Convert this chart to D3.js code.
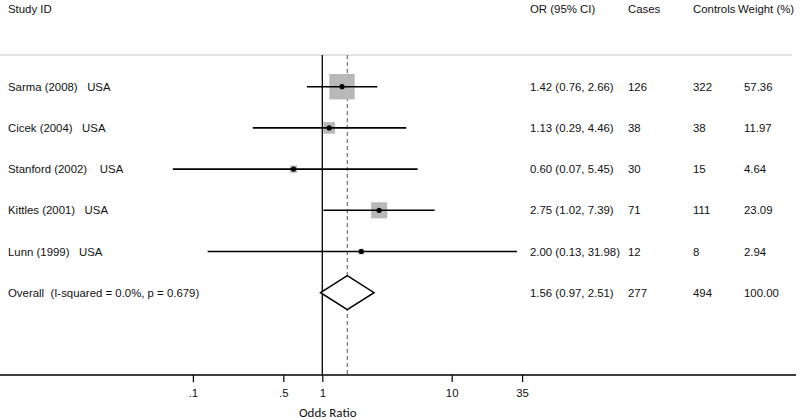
<!DOCTYPE html>
<html><head><meta charset="utf-8">
<script src="https://cdn.jsdelivr.net/npm/d3@7"></script>
<style>
body{margin:0;background:#fff;}
text{font-family:"Liberation Sans",Arial,sans-serif;font-size:11.4px;fill:#111;white-space:pre;}
</style></head>
<body><svg id="c" width="800" height="420"></svg>
<script>
const studies = ["Sarma (2008)   USA","Cicek (2004)   USA","Stanford (2002)    USA","Kittles (2001)   USA","Lunn (1999)   USA"];
const orValues = [1.42,1.13,0.60,2.75,2.00];
const ciLower = [0.76,0.29,0.07,1.02,0.13];
const ciUpper = [2.66,4.46,5.45,7.39,31.98];
const cases = [126,38,30,71,12];
const controls = [322,38,15,111,8];
const weights = [57.36,11.97,4.64,23.09,2.94];
const overallLabel = "Overall  (I-squared = 0.0%, p = 0.679)";
const overall = {or:1.56, lo:0.97, hi:2.51, cases:277, controls:494, weight:"100.00"};
const tickValues = [0.1,0.5,1,10,35];
const tickLabels = [".1",".5","1","10","35"];
const headers = ["Study ID","OR (95% CI)","Cases","Controls","Weight (%)"];

const svg = d3.select("#c");
const x = d3.scaleLog().domain([1,10]).range([322.3,451.7]);
const rows = studies.concat([overallLabel]);
const y = d3.scalePoint().domain(d3.range(rows.length)).range([86.7,292.7]);
const side = d3.scaleSqrt().domain([0,100]).range([0,33.5]);
const f2 = d3.format(".2f");

// header
const hx = [8,530,628,693,738];
headers.forEach((h,i)=>svg.append("text").attr("x",hx[i]).attr("y",13).text(h));
svg.append("line").attr("x1",0).attr("x2",792).attr("y1",55).attr("y2",55)
  .attr("stroke","#c4c4c4").attr("stroke-width",1.2);

// reference lines
svg.append("line").attr("x1",x(1)).attr("x2",x(1)).attr("y1",55).attr("y2",375)
  .attr("stroke","#000").attr("stroke-width",1.3);
svg.append("line").attr("x1",x(overall.or)).attr("x2",x(overall.or)).attr("y1",55).attr("y2",375)
  .attr("stroke","#555").attr("stroke-width",1).attr("stroke-dasharray","4,3");

// axis
const axis = d3.axisBottom(x).tickValues(tickValues).tickFormat((d,i)=>tickLabels[i]).tickSize(7).tickPadding(7);
const ag = svg.append("g").attr("transform","translate(0,375)").call(axis);
ag.select(".domain").remove();
ag.selectAll(".tick line").attr("stroke","#000").attr("stroke-width",1.2);
ag.selectAll(".tick text").style("font-family","Liberation Sans, Arial, sans-serif").style("font-size","11.4px").attr("fill","#111");
svg.append("line").attr("x1",0).attr("x2",796).attr("y1",375).attr("y2",375).attr("stroke","#000").attr("stroke-width",1.6);
svg.append("text").attr("x",(x(1)+x(1.56))/2-7).attr("y",417).attr("text-anchor","middle").style("font-family","Carlito, Calibri, 'Open Sans', sans-serif").style("font-size","13px").text("Odds Ratio");

// study rows
studies.forEach((s,i)=>{
  const cy = y(i);
  svg.append("text").attr("x",8).attr("y",cy+4).text(s);
  const w = side(weights[i]);
  svg.append("rect").attr("x",x(orValues[i])-w/2).attr("y",cy-w/2).attr("width",w).attr("height",w).attr("fill","#b8b8b8");
  svg.append("line").attr("x1",x(ciLower[i])).attr("x2",x(ciUpper[i])).attr("y1",cy).attr("y2",cy).attr("stroke","#000").attr("stroke-width",1.6);
  svg.append("circle").attr("cx",x(orValues[i])).attr("cy",cy).attr("r",2.6).attr("fill","#000");
  svg.append("text").attr("x",530).attr("y",cy+4).text(`${f2(orValues[i])} (${f2(ciLower[i])}, ${f2(ciUpper[i])})`);
  svg.append("text").attr("x",628).attr("y",cy+4).text(cases[i]);
  svg.append("text").attr("x",693).attr("y",cy+4).text(controls[i]);
  svg.append("text").attr("x",744).attr("y",cy+4).text(f2(weights[i]));
});

// overall
const oy = y(rows.length-1);
svg.append("text").attr("x",8).attr("y",oy+4).text(overallLabel);
const dpts = [[x(overall.lo),oy],[x(overall.or),oy-17],[x(overall.hi),oy],[x(overall.or),oy+17]];
svg.append("path").attr("d",d3.line()(dpts)+"Z").attr("fill","#fff").attr("stroke","#000").attr("stroke-width",1.5);
svg.append("text").attr("x",530).attr("y",oy+4).text(`${f2(overall.or)} (${f2(overall.lo)}, ${f2(overall.hi)})`);
svg.append("text").attr("x",628).attr("y",oy+4).text(overall.cases);
svg.append("text").attr("x",693).attr("y",oy+4).text(overall.controls);
svg.append("text").attr("x",744).attr("y",oy+4).text(overall.weight);
</script></body></html>
